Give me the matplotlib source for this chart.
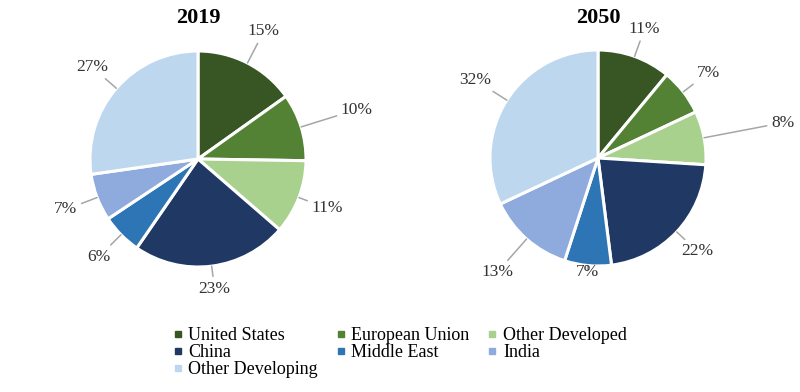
import numpy as np
import matplotlib
matplotlib.use("Agg")
import matplotlib.pyplot as plt
from matplotlib.lines import Line2D

plt.rcParams['font.family'] = ['Liberation Serif', 'DejaVu Serif']

categories = ["United States", "European Union", "Other Developed", "China",
              "Middle East", "India", "Other Developing"]
values_2019 = [15, 10, 11, 23, 6, 7, 27]
values_2050 = [11, 7, 8, 22, 7, 13, 32]
titles = ["2019", "2050"]
colors = ["#375623", "#548235", "#A9D18E", "#203864", "#2E75B6", "#8FAADC", "#BDD7EE"]

# label distances (in radii) for the data labels
label_r = [[1.33, 1.54, 1.28, 1.21, 1.29, 1.31, 1.30],
           [1.27, 1.29, 1.74, 1.26, 1.06, 1.41, 1.35]]

W, H = 800, 392
fig = plt.figure(figsize=(W / 100, H / 100), dpi=100)

R = 108.0           # pie radius px
centers = [(198, 159), (598, 158)]   # px from left / top
ax_w, ax_h = 400, 310

for i, (vals, title) in enumerate(zip([values_2019, values_2050], titles)):
    cx, cy = centers[i]
    left = i * 400
    ax = fig.add_axes([left / W, (H - ax_h) / H, ax_w / W, ax_h / H])
    wedges, _ = ax.pie(vals, colors=colors, startangle=90, counterclock=False,
                       wedgeprops=dict(edgecolor="white", linewidth=2.2))
    cx_ax = cx - left
    cy_ax = ax_h - cy
    ax.set_xlim(-cx_ax / R, (ax_w - cx_ax) / R)
    ax.set_ylim(-cy_ax / R, (ax_h - cy_ax) / R)
    ax.set_aspect('auto')
    for w, v, lr in zip(wedges, vals, label_r[i]):
        ang = np.deg2rad((w.theta1 + w.theta2) / 2)
        x, y = np.cos(ang), np.sin(ang)
        ax.annotate(f"{v}%", xy=(x, y), xytext=(lr * x, lr * y),
                    ha="center", va="center", fontsize=12.5, color="#333333",
                    arrowprops=dict(arrowstyle="-", color="#A6A6A6", lw=1.1,
                                    shrinkA=1, shrinkB=0,
                                    connectionstyle=f"angle,angleA=0,angleB={np.rad2deg(ang):.1f},rad=0"))
    fig.text(cx / W, 1 - 18 / H, title, ha="center", va="center",
             fontsize=16, fontweight="bold")

order = [0, 3, 6, 1, 4, 2, 5]
handles = [Line2D([], [], marker="s", linestyle="none", markersize=4.5,
                  markerfacecolor=colors[k], markeredgecolor=colors[k]) for k in order]
labels = [categories[k] for k in order]
fig.legend(handles, labels, ncol=3, loc="upper left",
           bbox_to_anchor=(164 / W, 1 - 318 / H), frameon=False,
           fontsize=13, handlelength=0.5, handletextpad=0.35,
           columnspacing=1.0, labelspacing=0.0, borderpad=0)

fig.savefig("out.png", dpi=100)
